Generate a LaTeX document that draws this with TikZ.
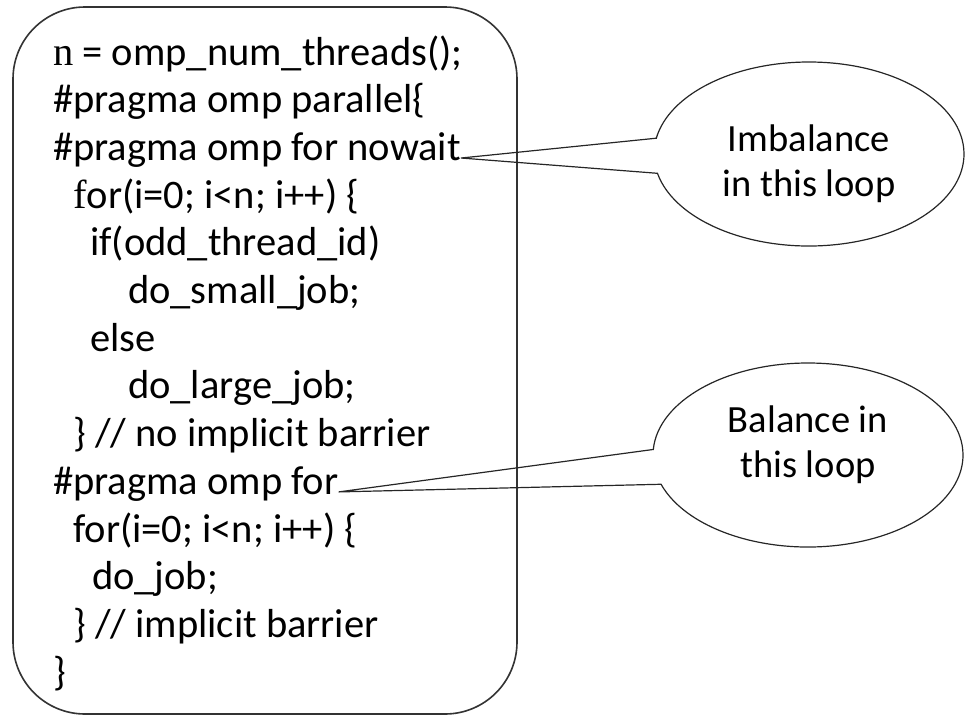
\documentclass[tikz,border=0pt]{standalone}
\usepackage{fontspec}
\setmainfont{Carlito}
\newfontfamily\oddglyph{Liberation Serif}
\usetikzlibrary{shapes.callouts}
\begin{document}
\begin{tikzpicture}[
  x=1pt, y=-1pt,
  every node/.style={font=\fontsize{40.5}{45}\selectfont},
  codeline/.style={anchor=base west, inner sep=0pt},
  codebox/.style={draw=black!80, line width=1.6pt, rounded corners=72pt},
  note/.style={ellipse callout, draw=black!85, line width=1.2pt, align=center,
    font=\fontsize{38.5}{45}\selectfont, text depth=10pt,
    minimum width=310pt, minimum height=184pt, callout pointer arc=22}
]
\useasboundingbox (0,0) rectangle (967,718);
\draw[codebox] (13,7) rectangle (517,714);
% code lines
\node[codeline] (l1)  at (53,65)    {{\oddglyph n} = omp\_num\_threads();};
\node[codeline] (l2)  at (53,112.7) {\#pragma omp parallel\{};
\node[codeline] (l3)  at (53,160.4) {\#pragma omp for nowait};
\node[codeline] (l4)  at (73,208.1) {{\oddglyph f}or(i=0; i<n; i++) \{};
\node[codeline] (l5)  at (90,255.8) {if(odd\_thread\_id)};
\node[codeline] (l6)  at (128,303.5) {do\_small\_job;};
\node[codeline] (l7)  at (90,351.2) {else};
\node[codeline] (l8)  at (128,398.9) {do\_large\_job;};
\node[codeline] (l9)  at (73,446.6) {\} // no implicit barrier};
\node[codeline] (l10) at (53,494.3) {\#pragma omp for};
\node[codeline] (l11) at (73,542)   {for(i=0; i<n; i++) \{};
\node[codeline] (l12) at (92,589.7) {do\_job;};
\node[codeline] (l13) at (73,637.4) {\} // implicit barrier};
\node[codeline] (l14) at (53,685.1) {\}};
% callouts
\node[note, text height=94pt, callout absolute pointer={(l3.mid east)}] (imbalance) at (809,154) {Imbalance\\in this loop};
\node[note, text height=54pt, callout absolute pointer={(l10.mid east)}] (balance) at (808,455) {Balance in\\this loop};
\end{tikzpicture}
\end{document}
